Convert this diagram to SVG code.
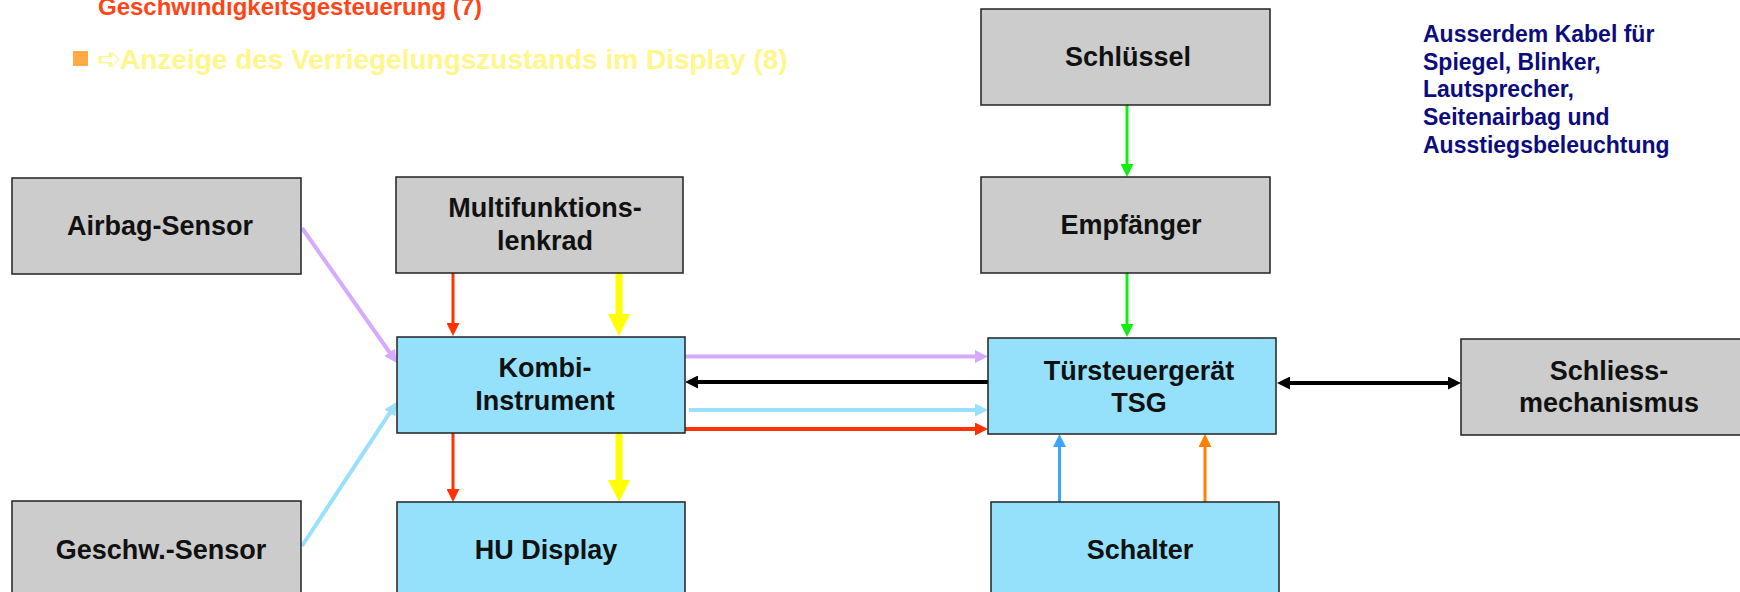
<svg xmlns="http://www.w3.org/2000/svg" width="1740" height="592" viewBox="0 0 1740 592">
<style>
.g{fill:#cccccc;stroke:#222;stroke-width:1.5}
.b{fill:#95e1fc;stroke:#222;stroke-width:1.5}
.t{font-family:"Liberation Sans",Arial,sans-serif;font-weight:bold;font-size:27px;fill:#111;text-anchor:middle}
.c{fill:none}
</style>
<defs>
<marker id="mRed" markerUnits="userSpaceOnUse" markerWidth="13" markerHeight="13" refX="2" refY="6.5" orient="auto"><path d="M0,0L13,6.5L0,13z" fill="#ff3300"/></marker>
<marker id="mYel" markerUnits="userSpaceOnUse" markerWidth="22" markerHeight="22" refX="2" refY="11" orient="auto"><path d="M0,0L22,11L0,22z" fill="#ffff00"/></marker>
<marker id="mLav" markerUnits="userSpaceOnUse" markerWidth="13" markerHeight="13" refX="2" refY="6.5" orient="auto"><path d="M0,0L13,6.5L0,13z" fill="#d5aaff"/></marker>
<marker id="mLb" markerUnits="userSpaceOnUse" markerWidth="13" markerHeight="13" refX="2" refY="6.5" orient="auto"><path d="M0,0L13,6.5L0,13z" fill="#99e0ff"/></marker>
<marker id="mBlk" markerUnits="userSpaceOnUse" markerWidth="13" markerHeight="13" refX="2" refY="6.5" orient="auto-start-reverse"><path d="M0,0L13,6.5L0,13z" fill="#000"/></marker>
<marker id="mGrn" markerUnits="userSpaceOnUse" markerWidth="13" markerHeight="13" refX="2" refY="6.5" orient="auto"><path d="M0,0L13,6.5L0,13z" fill="#11ee11"/></marker>
<marker id="mBlu" markerUnits="userSpaceOnUse" markerWidth="13" markerHeight="13" refX="2" refY="6.5" orient="auto"><path d="M0,0L13,6.5L0,13z" fill="#3da5ff"/></marker>
<marker id="mOr" markerUnits="userSpaceOnUse" markerWidth="13" markerHeight="13" refX="2" refY="6.5" orient="auto"><path d="M0,0L13,6.5L0,13z" fill="#ff8000"/></marker>
</defs>
<rect width="1740" height="592" fill="#fff"/>

<g id="header">
<text x="98" y="15" font-family="Liberation Sans,Arial,sans-serif" font-weight="bold" font-size="24" fill="#ff4416">Geschwindigkeitsgesteuerung (7)</text>
<rect x="73" y="51" width="15" height="15" fill="#ffaa44"/>
<text x="97" y="69" font-family="Liberation Sans,Arial,sans-serif" font-weight="bold" font-size="28" fill="#fff68c"><tspan font-family="DejaVu Sans,sans-serif" font-weight="normal" font-size="30">➪</tspan><tspan x="120">Anzeige des Verriegelungszustands im Display (8)</tspan></text>
</g>

<g id="note" font-family="Liberation Sans,Arial,sans-serif" font-weight="bold" font-size="23" fill="#0c0c7e">
<text x="1423" y="42">Ausserdem Kabel für</text>
<text x="1423" y="70">Spiegel, Blinker,</text>
<text x="1423" y="97">Lautsprecher,</text>
<text x="1423" y="125">Seitenairbag und</text>
<text x="1423" y="153">Ausstiegsbeleuchtung</text>
</g>

<g id="connectors" class="c">
<line x1="302" y1="228" x2="390.7" y2="354" stroke="#d5aaff" stroke-width="4" marker-end="url(#mLav)"/>
<line x1="302" y1="546" x2="390.9" y2="411.2" stroke="#99e0ff" stroke-width="4" marker-end="url(#mLb)"/>
<line x1="453" y1="273" x2="453" y2="325" stroke="#ff3300" stroke-width="3" marker-end="url(#mRed)"/>
<line x1="619" y1="273" x2="619" y2="316" stroke="#ffff00" stroke-width="7" marker-end="url(#mYel)"/>
<line x1="453" y1="433" x2="453" y2="491" stroke="#ff3300" stroke-width="3" marker-end="url(#mRed)"/>
<line x1="619" y1="433" x2="619" y2="482" stroke="#ffff00" stroke-width="7" marker-end="url(#mYel)"/>
<line x1="685" y1="356.5" x2="977" y2="356.5" stroke="#d5aaff" stroke-width="4" marker-end="url(#mLav)"/>
<line x1="988" y1="382" x2="696" y2="382" stroke="#000" stroke-width="4" marker-end="url(#mBlk)"/>
<line x1="689" y1="410" x2="977" y2="410" stroke="#99e0ff" stroke-width="4" marker-end="url(#mLb)"/>
<line x1="685" y1="429" x2="977" y2="429" stroke="#ff3300" stroke-width="4" marker-end="url(#mRed)"/>
<line x1="1127" y1="105" x2="1127" y2="166" stroke="#11ee11" stroke-width="3" marker-end="url(#mGrn)"/>
<line x1="1127" y1="273" x2="1127" y2="326" stroke="#11ee11" stroke-width="3" marker-end="url(#mGrn)"/>
<line x1="1059.5" y1="502" x2="1059.5" y2="445" stroke="#3da5ff" stroke-width="3" marker-end="url(#mBlu)"/>
<line x1="1205" y1="502" x2="1205" y2="445" stroke="#ff8000" stroke-width="3" marker-end="url(#mOr)"/>
<line x1="1288" y1="383" x2="1450" y2="383" stroke="#000" stroke-width="4" marker-start="url(#mBlk)" marker-end="url(#mBlk)"/>
</g>

<g id="airbag"><rect class="g" x="12" y="178" width="289" height="96"/><text class="t" x="160" y="235">Airbag-Sensor</text></g>
<g id="lenkrad"><rect class="g" x="396" y="177" width="287" height="96"/><text class="t" x="545" y="217">Multifunktions-</text><text class="t" x="545" y="250">lenkrad</text></g>
<g id="kombi"><rect class="b" x="397" y="337" width="288" height="96"/><text class="t" x="545" y="377">Kombi-</text><text class="t" x="545" y="410">Instrument</text></g>
<g id="hu"><rect class="b" x="397" y="502" width="288" height="100"/><text class="t" x="546" y="559">HU Display</text></g>
<g id="geschw"><rect class="g" x="12" y="501" width="289" height="100"/><text class="t" x="161" y="559">Geschw.-Sensor</text></g>
<g id="schluessel"><rect class="g" x="981" y="9" width="289" height="96"/><text class="t" x="1128" y="66">Schlüssel</text></g>
<g id="empfaenger"><rect class="g" x="981" y="177" width="289" height="96"/><text class="t" x="1131" y="234">Empfänger</text></g>
<g id="tsg"><rect class="b" x="988" y="338" width="288" height="96"/><text class="t" x="1139" y="380">Türsteuergerät</text><text class="t" x="1139" y="412">TSG</text></g>
<g id="schalter"><rect class="b" x="991" y="502" width="288" height="100"/><text class="t" x="1140" y="559">Schalter</text></g>
<g id="schliess"><rect class="g" x="1461" y="339" width="297" height="96"/><text class="t" x="1609" y="380">Schliess-</text><text class="t" x="1609" y="412">mechanismus</text></g>
</svg>
